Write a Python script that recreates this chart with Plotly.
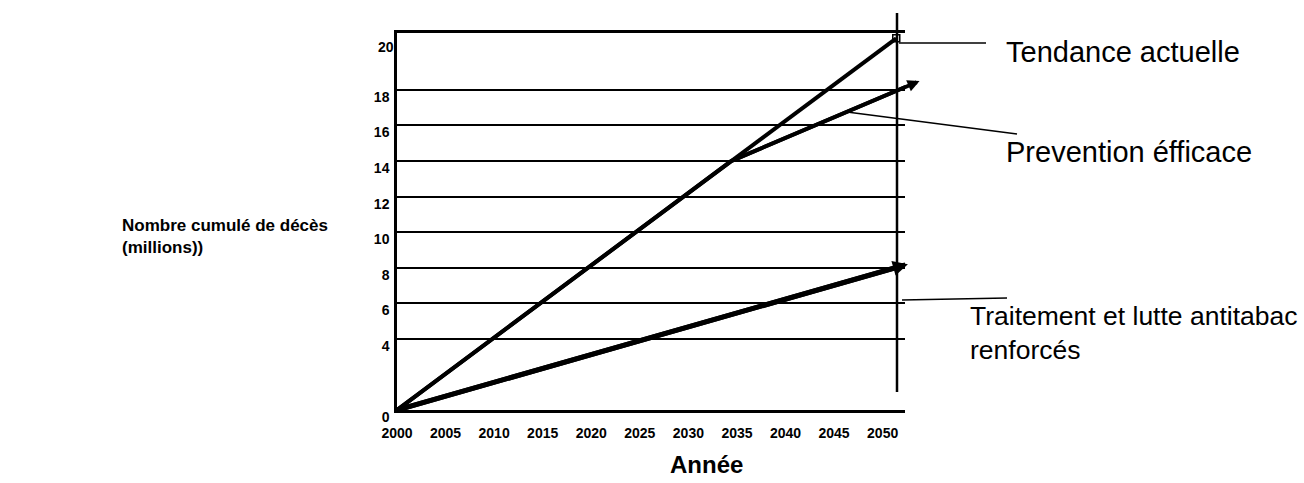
import plotly.graph_objects as go

# ---- data ----
years_tendance = [2000, 2051.4]
deaths_tendance = [0, 20.9]

years_prevention = [2000, 2034.4, 2053.8]
deaths_prevention = [0, 14, 18.5]

years_traitement = [2000, 2052.6]
deaths_traitement = [0, 8.2]

x_ticks = [2000, 2005, 2010, 2015, 2020, 2025, 2030, 2035, 2040, 2045, 2050]
y_ticks = [0, 4, 6, 8, 10, 12, 14, 16, 18]
y_top_label = 20

series_names = ["Tendance actuelle", "Prevention éfficace",
                "Traitement et lutte antitabac<br>renforcés"]

# ---- layout geometry (pixels of the 1304x483 page) ----
W, H = 1304, 483
L, R, T, B = 397, 905, 33, 410


def px(x):
    return (x - L) / (R - L)


def py(y):
    return (B - y) / (B - T)


FONT = "Liberation Sans, Arial, sans-serif"

fig = go.Figure()

fig.add_trace(go.Scatter(x=years_tendance, y=deaths_tendance, mode="lines",
                         line=dict(color="black", width=4),
                         cliponaxis=False, showlegend=False, name="Tendance actuelle"))
fig.add_trace(go.Scatter(x=years_tendance[-1:], y=deaths_tendance[-1:], mode="markers",
                         marker=dict(symbol="square-open", size=7, color="black",
                                     line=dict(width=1.5)),
                         cliponaxis=False, showlegend=False, hoverinfo="skip"))
fig.add_trace(go.Scatter(x=years_prevention, y=deaths_prevention, mode="lines",
                         line=dict(color="black", width=4),
                         cliponaxis=False, showlegend=False, name="Prevention éfficace"))
fig.add_trace(go.Scatter(x=years_traitement, y=deaths_traitement, mode="lines",
                         line=dict(color="black", width=5),
                         cliponaxis=False, showlegend=False, name="Traitement"))

shapes = []
# vertical reference line on the right
shapes.append(dict(type="line", xref="paper", yref="paper",
                   x0=px(897), x1=px(897), y0=py(13), y1=py(392),
                   line=dict(color="black", width=2.5)))
# leader lines
for (x0, y0, x1, y1) in [(899, 43, 986, 43), (847, 112, 1017, 134), (902, 300, 1007, 298)]:
    shapes.append(dict(type="line", xref="paper", yref="paper",
                       x0=px(x0), y0=py(y0), x1=px(x1), y1=py(y1),
                       line=dict(color="black", width=1.6)))

annotations = [
    dict(text=series_names[0], x=px(1004), y=py(52), xanchor="left", yanchor="middle",
         font=dict(size=29, family=FONT, color="black")),
    dict(text=series_names[1], x=px(1004), y=py(152), xanchor="left", yanchor="middle",
         font=dict(size=29, family=FONT, color="black")),
    dict(text=series_names[2], x=px(968), y=py(299), xanchor="left", yanchor="top",
         align="left", font=dict(size=26.5, family=FONT, color="black")),
    dict(text="Nombre cumulé de décès<br>(millions))", x=px(120), y=py(236),
         xanchor="left", yanchor="middle", align="left",
         font=dict(size=17, family=FONT, color="black", weight="bold")),
    dict(text="Année", x=px(706), y=py(464), xanchor="center", yanchor="middle",
         font=dict(size=24, family=FONT, color="black", weight="bold")),
    dict(text=str(y_top_label), x=0, xref="paper", y=y_top_label, yref="y",
         xanchor="right", yanchor="middle", xshift=-1, yshift=7, showarrow=False,
         font=dict(size=14, family=FONT, color="black", weight="bold")),
]
# arrowheads at the ends of two series (drawn from their last segment)
for xs, ys, w in [(years_prevention, deaths_prevention, 4),
                  (years_traitement, deaths_traitement, 5)]:
    annotations.append(dict(x=xs[-1], y=ys[-1], ax=xs[-2], ay=ys[-2],
                            xref="x", yref="y", axref="x", ayref="y",
                            text="", showarrow=True, arrowhead=2, arrowsize=0.6,
                            arrowwidth=w, arrowcolor="black"))
for a in annotations:
    a.setdefault("xref", "paper")
    a.setdefault("yref", "paper")
    a.setdefault("showarrow", False)

fig.update_layout(
    width=W, height=H,
    margin=dict(l=L, r=W - R, t=T, b=H - B, pad=0),
    paper_bgcolor="white", plot_bgcolor="white",
    shapes=shapes, annotations=annotations,
    xaxis=dict(range=[2000, 2052.3], tickvals=x_ticks, showgrid=False, zeroline=False,
               showline=True, linecolor="black", linewidth=2.5, mirror=True,
               ticks="", ticklabelstandoff=8,
               tickfont=dict(size=14, family=FONT, color="black", weight="bold")),
    yaxis=dict(range=[0, 21.2], tickvals=y_ticks, showgrid=True, gridcolor="black",
               gridwidth=1.6, zeroline=False, showline=True, linecolor="black",
               linewidth=2.5, ticks="", ticklabelstandoff=2, ticklabelshift=7,
               tickfont=dict(size=14, family=FONT, color="black", weight="bold")),
)

fig.write_html("out.html", config={"displayModeBar": False},
               post_script="document.body.style.margin='0';document.body.style.overflow='hidden';")
